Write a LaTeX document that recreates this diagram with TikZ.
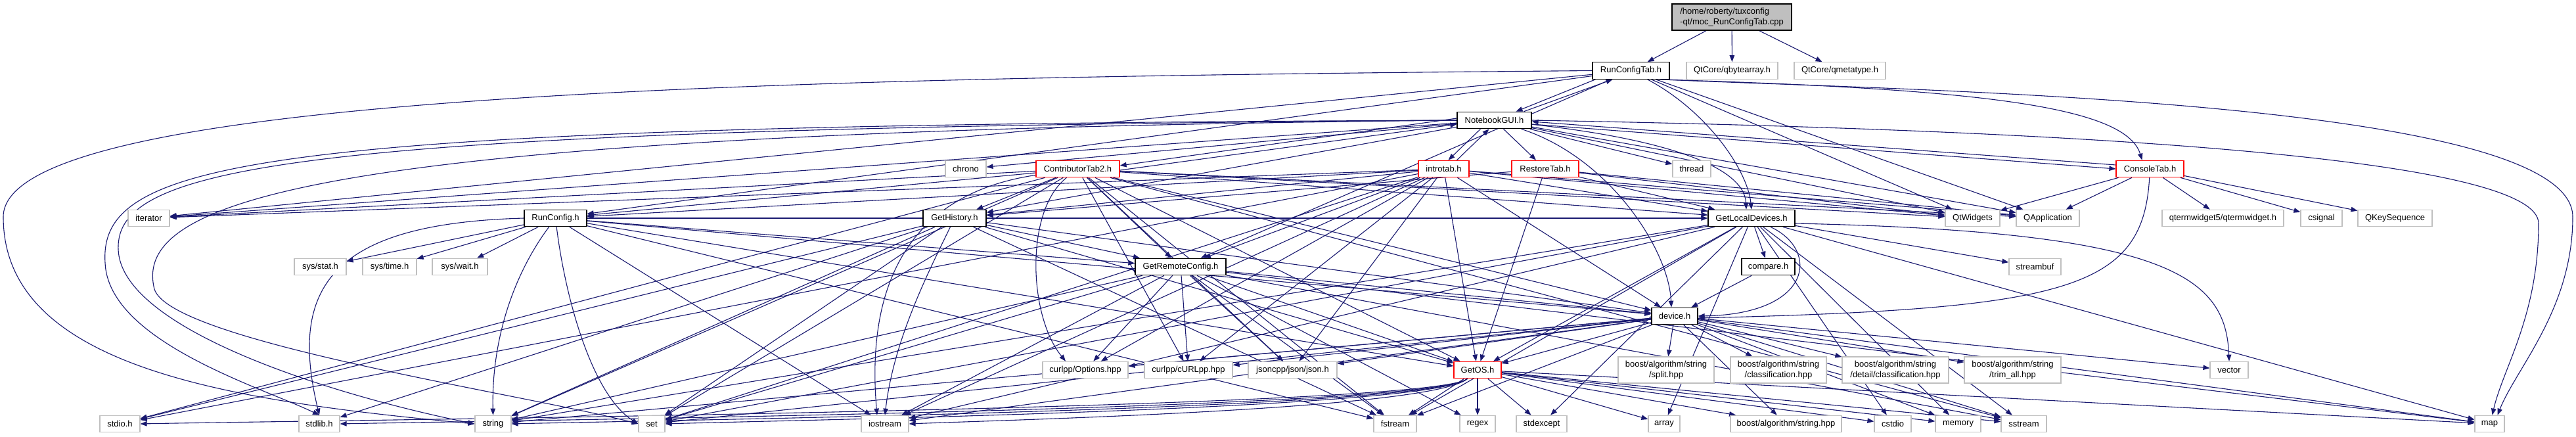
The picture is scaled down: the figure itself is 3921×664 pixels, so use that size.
\documentclass[tikz,border=0pt]{standalone}
\usepackage{fontspec}
\setmainfont{Liberation Sans}
\usetikzlibrary{arrows.meta}
\definecolor{edgec}{HTML}{191970}
\definecolor{sysc}{HTML}{BFBFBF}
\definecolor{redc}{HTML}{FF0000}
\pgfdeclarelayer{bglayer}
\pgfdeclarelayer{edgelayer}
\pgfsetlayers{bglayer,edgelayer,main}
\begin{document}
\begin{tikzpicture}[x=1pt,y=-1pt,
  box/.style={draw, line width=1.2pt, minimum height=25.5pt, inner sep=0pt, font=\fontsize{13}{15.3}\selectfont, text=black, fill=white},
  docb/.style={box, draw=black},
  redb/.style={box, draw=redc},
  sysb/.style={box, draw=sysc},
  edg/.style={draw=edgec, line width=1.1pt, -{Triangle[length=10pt,width=7.5pt]}},
]
\begin{pgfonlayer}{bglayer}
\fill[white] (0,0) rectangle (3921,664);
\end{pgfonlayer}
\useasboundingbox (0,0) rectangle (3921,664);

% ---------- nodes ----------
\node[docb, fill=sysc, minimum width=182pt, minimum height=40pt, align=left] (moc) at (2636,26) {/home/roberty/tuxconfig\\-qt/moc\_RunConfigTab.cpp};
% row 2
\node[docb, minimum width=117pt] (rct) at (2482.5,107.5) {RunConfigTab.h};
\node[sysb, minimum width=139pt] (qba) at (2636.5,107.5) {QtCore/qbytearray.h};
\node[sysb, minimum width=139pt] (qmt) at (2800.5,107.5) {QtCore/qmetatype.h};
% row 3
\node[docb, minimum width=113pt] (nb) at (2274.5,183) {NotebookGUI.h};
% row 4
\node[sysb, minimum width=62pt] (chrono) at (1470,257) {chrono};
\node[redb, minimum width=127pt] (ct2) at (1640.5,257) {ContributorTab2.h};
\node[redb, minimum width=77pt] (intro) at (2197.5,257) {introtab.h};
\node[redb, minimum width=102pt] (restore) at (2352,257) {RestoreTab.h};
\node[sysb, minimum width=58pt] (thread) at (2575,257) {thread};
\node[redb, minimum width=103pt] (console) at (3272.5,257) {ConsoleTab.h};
% row 5
\node[sysb, minimum width=63pt] (iterator) at (226.5,332) {iterator};
\node[docb, minimum width=95pt] (rc) at (845.5,332) {RunConfig.h};
\node[docb, minimum width=96pt] (gh) at (1453,332) {GetHistory.h};
\node[docb, minimum width=132pt] (gld) at (2666,332) {GetLocalDevices.h};
\node[sysb, minimum width=83pt] (qtw) at (3002.5,332) {QtWidgets};
\node[sysb, minimum width=96pt] (qapp) at (3117,332) {QApplication};
\node[sysb, minimum width=185pt] (qterm) at (3383.5,332) {qtermwidget5/qtermwidget.h};
\node[sysb, minimum width=63pt] (csignal) at (3533.5,332) {csignal};
\node[sysb, minimum width=113pt] (qkey) at (3645.5,332) {QKeySequence};
% row 6
\node[sysb, minimum width=79pt] (sysstat) at (487.5,406) {sys/stat.h};
\node[sysb, minimum width=82pt] (systime) at (593,406) {sys/time.h};
\node[sysb, minimum width=84pt] (syswait) at (700,406) {sys/wait.h};
\node[docb, minimum width=138pt] (grc) at (1797,406) {GetRemoteConfig.h};
\node[docb, minimum width=81pt] (compare) at (2691.5,406) {compare.h};
\node[sysb, minimum width=79pt] (streambuf) at (3097.5,406) {streambuf};
% row 7
\node[docb, minimum width=70pt] (device) at (2549,481) {device.h};
% row 8
\node[sysb, minimum width=130pt] (curlopt) at (1652,563) {curlpp/Options.hpp};
\node[sysb, minimum width=134pt] (curlpp) at (1809,563) {curlpp/cURLpp.hpp};
\node[sysb, minimum width=135pt] (json) at (1967.5,563) {jsoncpp/json/json.h};
\node[redb, minimum width=72pt] (getos) at (2249,563) {GetOS.h};
\node[sysb, minimum width=146pt, minimum height=40pt, align=center] (split) at (2536,563) {boost/algorithm/string\\/split.hpp};
\node[sysb, minimum width=146pt, minimum height=40pt, align=center] (classif) at (2707,563) {boost/algorithm/string\\/classification.hpp};
\node[sysb, minimum width=162pt, minimum height=40pt, align=center] (detclassif) at (2885,563) {boost/algorithm/string\\/detail/classification.hpp};
\node[sysb, minimum width=147pt, minimum height=40pt, align=center] (trimall) at (3063.5,563) {boost/algorithm/string\\/trim\_all.hpp};
\node[sysb, minimum width=58pt] (vector) at (3393,563) {vector};
% row 9
\node[sysb, minimum width=61pt] (stdio) at (182.5,645) {stdio.h};
\node[sysb, minimum width=62pt] (stdlib) at (486,645) {stdlib.h};
\node[sysb, minimum width=55pt] (string) at (750.5,645) {string};
\node[sysb, minimum width=40pt] (set) at (992,645) {set};
\node[sysb, minimum width=72pt] (iostream) at (1347,645) {iostream};
\node[sysb, minimum width=65pt] (fstream) at (2123.5,645) {fstream};
\node[sysb, minimum width=54pt] (regex) at (2249,645) {regex};
\node[sysb, minimum width=77pt] (stdexcept) at (2346.5,645) {stdexcept};
\node[sysb, minimum width=48pt] (array) at (2533,645) {array};
\node[sysb, minimum width=169pt] (bas) at (2718.5,645) {boost/algorithm/string.hpp};
\node[sysb, minimum width=56pt] (cstdio) at (2881,645) {cstdio};
\node[sysb, minimum width=69pt] (memory) at (2980.5,645) {memory};
\node[sysb, minimum width=69pt] (sstream) at (3080.5,645) {sstream};
\node[sysb, minimum width=45pt] (map) at (3789.5,645) {map};

% ---------- edges ----------
\begin{pgfonlayer}{edgelayer}
\foreach \a/\b in {moc/rct, moc/qba, moc/qmt,
  rct/iterator, rct/rc, rct/grc, rct/qtw, rct/qapp,
  nb/chrono, nb/restore, nb/thread, nb/iterator, nb/gh, nb/qtw, nb/qapp,
  ct2/iterator, ct2/gh, ct2/grc, ct2/gld, ct2/rc, ct2/device, ct2/getos, ct2/qtw, ct2/qapp,
  ct2/curlpp, ct2/json, ct2/string, ct2/set, ct2/stdio, ct2/fstream, ct2/sstream,
  intro/iterator, intro/gh, intro/grc, intro/gld, intro/rc, intro/device, intro/getos, intro/qtw, intro/qapp,
  intro/curlopt, intro/curlpp, intro/json, intro/iostream, intro/set, intro/stdio,
  restore/getos, restore/gh, restore/gld, restore/qtw, restore/qapp,
  console/qtw, console/qapp, console/qterm, console/csignal, console/qkey,
  gh/grc, gh/device, gh/getos, gh/string, gh/set, gh/stdio, gh/stdlib, gh/fstream,
  rc/sysstat, rc/systime, rc/syswait, rc/grc, rc/device, rc/getos, rc/gld, rc/iostream, rc/fstream,
  grc/curlopt, grc/curlpp, grc/json, grc/device, grc/getos, grc/iostream, grc/string, grc/set,
  grc/fstream, grc/regex, grc/sstream, grc/map,
  gld/compare, gld/getos, gld/streambuf, gld/string, gld/set, gld/iostream, gld/fstream, gld/sstream,
  gld/map, gld/memory, gld/cstdio, gld/array, gld/stdexcept,
  compare/device,
  device/split, device/classif, device/detclassif, device/trimall, device/vector, device/getos,
  device/string, device/set, device/iostream, device/fstream, device/sstream, device/map,
  device/json, device/curlpp, device/curlopt, device/bas, device/memory,
  getos/fstream, getos/regex, getos/stdexcept, getos/array, getos/bas, getos/cstdio,
  getos/memory, getos/sstream, getos/map}
  \draw[edg] (\a) -- (\b);
% GetOS.h to the far-left headers, running low
\foreach \b/\c in {stdio/300, stdlib/300, string/250, set/200, iostream/150}
  \draw[edg] (getos) .. controls +(-70,60) and +(\c,-6) .. (\b.east);
% cycles between tabs and NotebookGUI.h
\draw[edg] ([xshift=-54pt]rct.south) -- ([xshift=33pt]nb.north);
\draw[edg] ([xshift=45pt]nb.north) -- ([xshift=-28pt]rct.south);
\draw[edg] ([xshift=-21pt]nb.south) -- ([xshift=7pt]intro.north);
\draw[edg] ([xshift=20pt]intro.north) -- ([xshift=-8pt]nb.south);
\draw[edg] ([yshift=3pt]nb.west) -- ([yshift=5pt]ct2.east);
\draw[edg] ([yshift=-2pt]ct2.east) -- ([yshift=-6pt]nb.west);
\draw[edg] ([yshift=-6pt]nb.east) -- (console.west);
\draw[edg] ([yshift=6pt]console.west) -- ([yshift=-2pt]nb.east);
% long curved connectors
\draw[edg] (rct.west) .. controls (1200,118) and (5,140) .. (5,330) .. controls (5,560) and (350,610) .. (string.west);
\draw[edg] ([xshift=45pt]rct.south) .. controls (2900,138) and (3916,150) .. (3916,330) .. controls (3916,470) and (3830,560) .. ([xshift=12pt]map.north);
\draw[edg] (nb.east) .. controls (3300,200) and (3864,250) .. (3864,340) .. controls (3864,480) and (3810,560) .. ([xshift=4pt]map.north);
\draw[edg] ([xshift=40pt]rct.south) .. controls (3000,135) and (3235,160) .. ([xshift=-12pt]console.north);
\draw[edg] (rct) .. controls (2600,170) and (2660,260) .. (gld.north);
\draw[edg] (nb) .. controls (2520,210) and (2655,250) .. ([xshift=-8pt]gld.north);
\draw[edg] (nb) .. controls (2450,240) and (2540,380) .. ([xshift=-5pt]device.north);
\draw[edg] (gld) .. controls (2770,380) and (2760,478) .. (device.east);
\draw[edg] ([yshift=-8pt]gld.east) .. controls (3300,352) and (3388,420) .. (vector.north);
\draw[edg] (console) .. controls (3262,440) and (3150,470) .. ([yshift=-3pt]device.east);
\draw[edg] (rc) .. controls (780,420) and (748,520) .. (string.north);
\draw[edg] (rc) .. controls (860,450) and (900,600) .. (set.west);
\draw[edg] (rc.west) .. controls (500,340) and (440,440) .. (stdlib.north);
\draw[edg] (ct2) .. controls (1560,320) and (1565,480) .. ([xshift=-30pt]curlopt.north);
\draw[edg] (ct2) .. controls (1350,300) and (1322,480) .. ([xshift=-12pt]iostream.north);
\draw[edg] (gh) .. controls (1410,420) and (1360,520) .. (iostream.north);
\draw[edg] (nb.west) .. controls (400,190) and (150,240) .. (160,400) .. controls (165,520) and (400,590) .. (stdlib.north);
\draw[edg] (nb.west) .. controls (450,195) and (175,250) .. (180,380) .. controls (185,500) and (500,600) .. (string.west);
\draw[edg] (nb.west) .. controls (500,200) and (200,300) .. (235,440) .. controls (260,520) and (800,600) .. (set.west);
\end{pgfonlayer}
\end{tikzpicture}
\end{document}
